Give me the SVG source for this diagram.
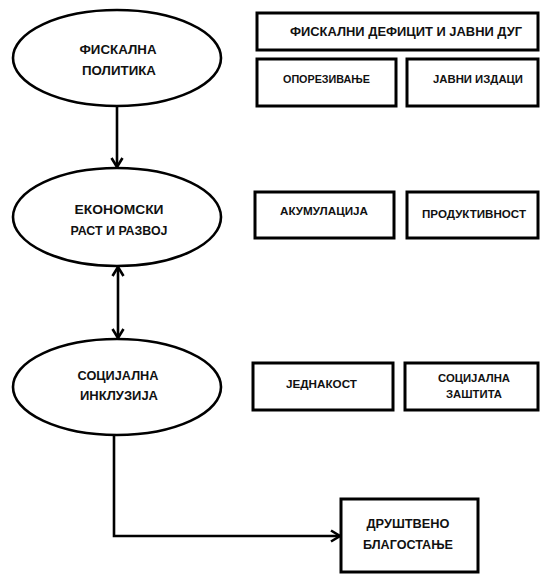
<svg xmlns="http://www.w3.org/2000/svg" width="540" height="574" viewBox="0 0 540 574">
<defs>
<style>
.bg{fill:#ffffff}
.el{fill:#ffffff;stroke:#000;stroke-width:2.6}
.bx{fill:#ffffff;stroke:#000;stroke-width:3}
.t{font-family:"Liberation Sans",Arial,sans-serif;font-weight:bold;fill:#111;text-anchor:middle}
.e{font-size:13px}
.s{font-size:10.5px}
.w{stroke:#000;stroke-width:2.6;fill:none}
</style>
<marker id="ah" markerUnits="userSpaceOnUse" markerWidth="14" markerHeight="14" viewBox="0 0 14 14" refX="11.5" refY="7" orient="auto-start-reverse">
<path d="M2.5,1.5 L11.5,7 L2.5,12.5" fill="none" stroke="#000" stroke-width="2.6"/>
</marker>
</defs>
<rect class="bg" x="0" y="0" width="540" height="574"/>
<g id="connectors">
<line class="w" x1="117" y1="105" x2="117" y2="167" marker-end="url(#ah)"/>
<line class="w" x1="118" y1="267" x2="118" y2="338" marker-start="url(#ah)" marker-end="url(#ah)"/>
<polyline class="w" points="114,435 114,536 340,536" marker-end="url(#ah)"/>
</g>
<g id="fiskalna-politika">
<ellipse class="el" cx="117" cy="58" rx="104" ry="48"/>
<text class="t e" x="118" y="54" textLength="77" lengthAdjust="spacingAndGlyphs">ФИСКАЛНА</text>
<text class="t e" x="119" y="75" textLength="74" lengthAdjust="spacingAndGlyphs">ПОЛИТИКА</text>
</g>
<g id="ekonomski-rast">
<ellipse class="el" cx="117" cy="217" rx="104" ry="49"/>
<text class="t e" x="119" y="214" textLength="89" lengthAdjust="spacingAndGlyphs">ЕКОНОМСКИ</text>
<text class="t e" x="119" y="235" textLength="97" lengthAdjust="spacingAndGlyphs">РАСТ И РАЗВОЈ</text>
</g>
<g id="socijalna-inkluzija">
<ellipse class="el" cx="117" cy="387" rx="104" ry="48"/>
<text class="t e" x="118" y="380" textLength="81" lengthAdjust="spacingAndGlyphs">СОЦИЈАЛНА</text>
<text class="t e" x="119" y="400" textLength="78" lengthAdjust="spacingAndGlyphs">ИНКЛУЗИЈА</text>
</g>
<g id="fiskalni-deficit">
<rect class="bx" x="257" y="13" width="281" height="37"/>
<text class="t" style="font-size:12.5px" x="406" y="36" textLength="232" lengthAdjust="spacingAndGlyphs">ФИСКАЛНИ ДЕФИЦИТ И ЈАВНИ ДУГ</text>
</g>
<g id="oporezivanje">
<rect class="bx" x="257" y="59" width="139" height="47"/>
<text class="t s" x="326.5" y="83" textLength="87" lengthAdjust="spacingAndGlyphs">ОПОРЕЗИВАЊЕ</text>
</g>
<g id="javni-izdaci">
<rect class="bx" x="407" y="59" width="131" height="47"/>
<text class="t s" x="478" y="83" textLength="90" lengthAdjust="spacingAndGlyphs">ЈАВНИ ИЗДАЦИ</text>
</g>
<g id="akumulacija">
<rect class="bx" x="255" y="192" width="139" height="46"/>
<text class="t s" x="324" y="215" textLength="88" lengthAdjust="spacingAndGlyphs">АКУМУЛАЦИЈА</text>
</g>
<g id="produktivnost">
<rect class="bx" x="407" y="192" width="131" height="46"/>
<text class="t s" x="474" y="218" textLength="104" lengthAdjust="spacingAndGlyphs">ПРОДУКТИВНОСТ</text>
</g>
<g id="jednakost">
<rect class="bx" x="253" y="363" width="140" height="47"/>
<text class="t s" x="321.5" y="388" textLength="71" lengthAdjust="spacingAndGlyphs">ЈЕДНАКОСТ</text>
</g>
<g id="socijalna-zastita">
<rect class="bx" x="405" y="363" width="133" height="47"/>
<text class="t s" x="474" y="382" textLength="72" lengthAdjust="spacingAndGlyphs">СОЦИЈАЛНА</text>
<text class="t s" x="474" y="398" textLength="56" lengthAdjust="spacingAndGlyphs">ЗАШТИТА</text>
</g>
<g id="drustveno-blagostanje">
<rect class="bx" x="341" y="499" width="137" height="73"/>
<text class="t" style="font-size:12.5px" x="408" y="528" textLength="83" lengthAdjust="spacingAndGlyphs">ДРУШТВЕНО</text>
<text class="t" style="font-size:12.5px" x="408" y="549" textLength="90" lengthAdjust="spacingAndGlyphs">БЛАГОСТАЊЕ</text>
</g>
</svg>
